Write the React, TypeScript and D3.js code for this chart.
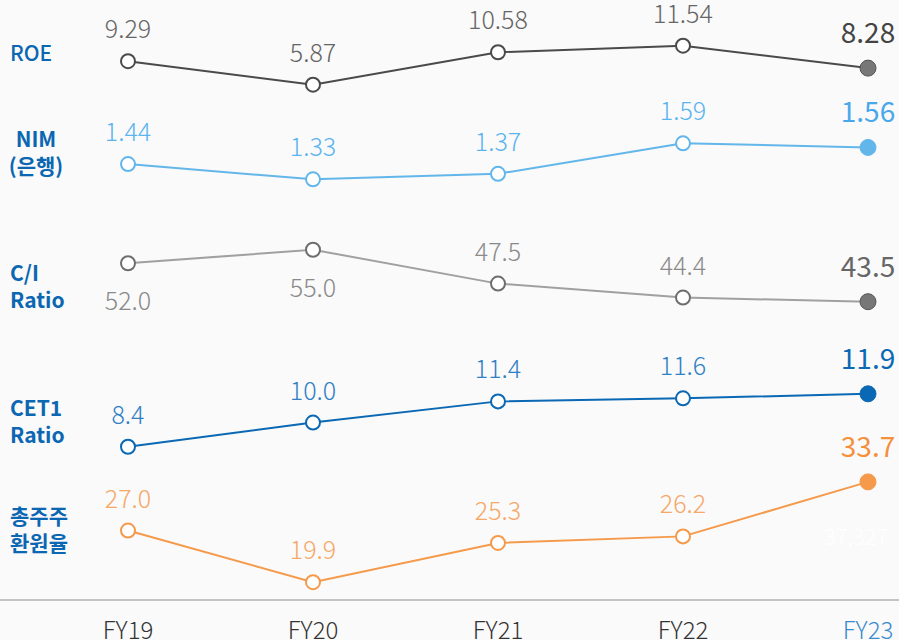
import React from 'react';
import * as d3 from 'd3';

const years = ['FY19', 'FY20', 'FY21', 'FY22', 'FY23'];
const roe = [9.29, 5.87, 10.58, 11.54, 8.28];
const nim = [1.44, 1.33, 1.37, 1.59, 1.56];
const ciRatio = [52.0, 55.0, 47.5, 44.4, 43.5];
const cet1 = [8.4, 10.0, 11.4, 11.6, 11.9];
const payout = [27.0, 19.9, 25.3, 26.2, 33.7];
const hiddenNote = '37,327';

const W = 899;
const H = 640;
const FONT = '"Noto Sans CJK KR", "Noto Sans", sans-serif';
const TITLE_COLOR = '#0b67b2';

// each series lives in its own horizontal band with its own y scale
const series = [
  {
    key: 'roe', values: roe, digits: 2,
    title: ['ROE'], titleX: 10, titleY: 61, titleAnchor: 'start', titleWeight: 500,
    domain: [5, 12], range: [90.7, 42.5],
    line: '#4a4a4a', stroke: '#4a4a4a', lastFill: '#777777',
    label: '#666666', lastLabel: '#444444', below: [] as number[],
  },
  {
    key: 'nim', values: nim, digits: 2,
    title: ['NIM', '(은행)'], titleX: 36, titleY: 147, titleAnchor: 'middle', titleWeight: 700,
    domain: [1.3, 1.6], range: [183.5, 141.9],
    line: '#62b6ea', stroke: '#62b6ea', lastFill: '#62b6ea',
    label: '#5ab4f0', lastLabel: '#4aa8ea', below: [] as number[],
  },
  {
    key: 'ci', values: ciRatio, digits: 1,
    title: ['C/I', 'Ratio'], titleX: 10, titleY: 281, titleAnchor: 'start', titleWeight: 700,
    domain: [40, 56], range: [317.5, 245.2],
    line: '#a0a0a0', stroke: '#6e6e6e', lastFill: '#777777',
    label: '#8a8a8a', lastLabel: '#666666', below: [0, 1],
  },
  {
    key: 'cet1', values: cet1, digits: 1,
    title: ['CET1', 'Ratio'], titleX: 10, titleY: 416, titleAnchor: 'start', titleWeight: 700,
    domain: [8, 12], range: [452.8, 392.3],
    line: '#0a68b4', stroke: '#0a68b4', lastFill: '#0a68b4',
    label: '#2f80c4', lastLabel: '#0a68b4', below: [] as number[],
  },
  {
    key: 'payout', values: payout, digits: 1,
    title: ['총주주', '환원율'], titleX: 10, titleY: 524, titleAnchor: 'start', titleWeight: 700,
    domain: [19, 34], range: [588.7, 479.7],
    line: '#f5994a', stroke: '#f5994a', lastFill: '#f5994a',
    label: '#f5a868', lastLabel: '#f5903c', below: [] as number[],
  },
];

const x = d3.scalePoint<string>().domain(years).range([128, 868]);

export default function App() {
  if (typeof document !== 'undefined') document.body.style.margin = '0';
  const last = years.length - 1;
  const axisY = 600;

  return (
    <svg width={W} height={H} style={{ display: 'block' }} fontFamily={FONT}>
      <rect width={W} height={H} fill="#fafafa" />

      {series.map(s => {
        const y = d3.scaleLinear().domain(s.domain).range(s.range);
        const pts = s.values.map((v, i) => [x(years[i]) as number, y(v)] as [number, number]);
        const path = d3.line()(pts) || '';
        return (
          <g key={s.key}>
            {s.title.map((t, i) => (
              <text key={t} x={s.titleX} y={s.titleY + i * 27} fill={TITLE_COLOR}
                fontSize={21} fontWeight={s.titleWeight} textAnchor={s.titleAnchor}>{t}</text>
            ))}
            <path d={path} fill="none" stroke={s.line} strokeWidth={2} />
            {pts.map(([px, py], i) => (
              <circle key={i} cx={px} cy={py} r={i === last ? 8 : 7}
                fill={i === last ? s.lastFill : '#ffffff'}
                stroke={i === last ? (s.key === 'roe' || s.key === 'ci' ? '#555555' : s.lastFill) : s.stroke}
                strokeWidth={i === last ? 1 : 2} />
            ))}
            {pts.map(([px, py], i) => {
              const isLast = i === last;
              const below = s.below.includes(i);
              return (
                <text key={'l' + i} x={px} y={below ? py + 47 : py - (isLast ? 25 : 23)}
                  textAnchor="middle" fill={isLast ? s.lastLabel : s.label}
                  fontSize={isLast ? 28 : 25} fontWeight={isLast ? 400 : 300}>
                  {s.values[i].toFixed(s.digits)}
                </text>
              );
            })}
          </g>
        );
      })}

      <text x={856} y={545} textAnchor="middle" fill="#ffffff" fontSize={22} fontWeight={300}>{hiddenNote}</text>

      <line x1={0} x2={W} y1={axisY} y2={axisY} stroke="#b0b0b0" strokeWidth={1.5} />
      {years.map((yr, i) => (
        <text key={yr} x={x(yr)} y={639} textAnchor="middle" fontSize={24} fontWeight={300}
          fill={i === last ? '#3b8bd0' : '#333333'}>{yr}</text>
      ))}
    </svg>
  );
}
